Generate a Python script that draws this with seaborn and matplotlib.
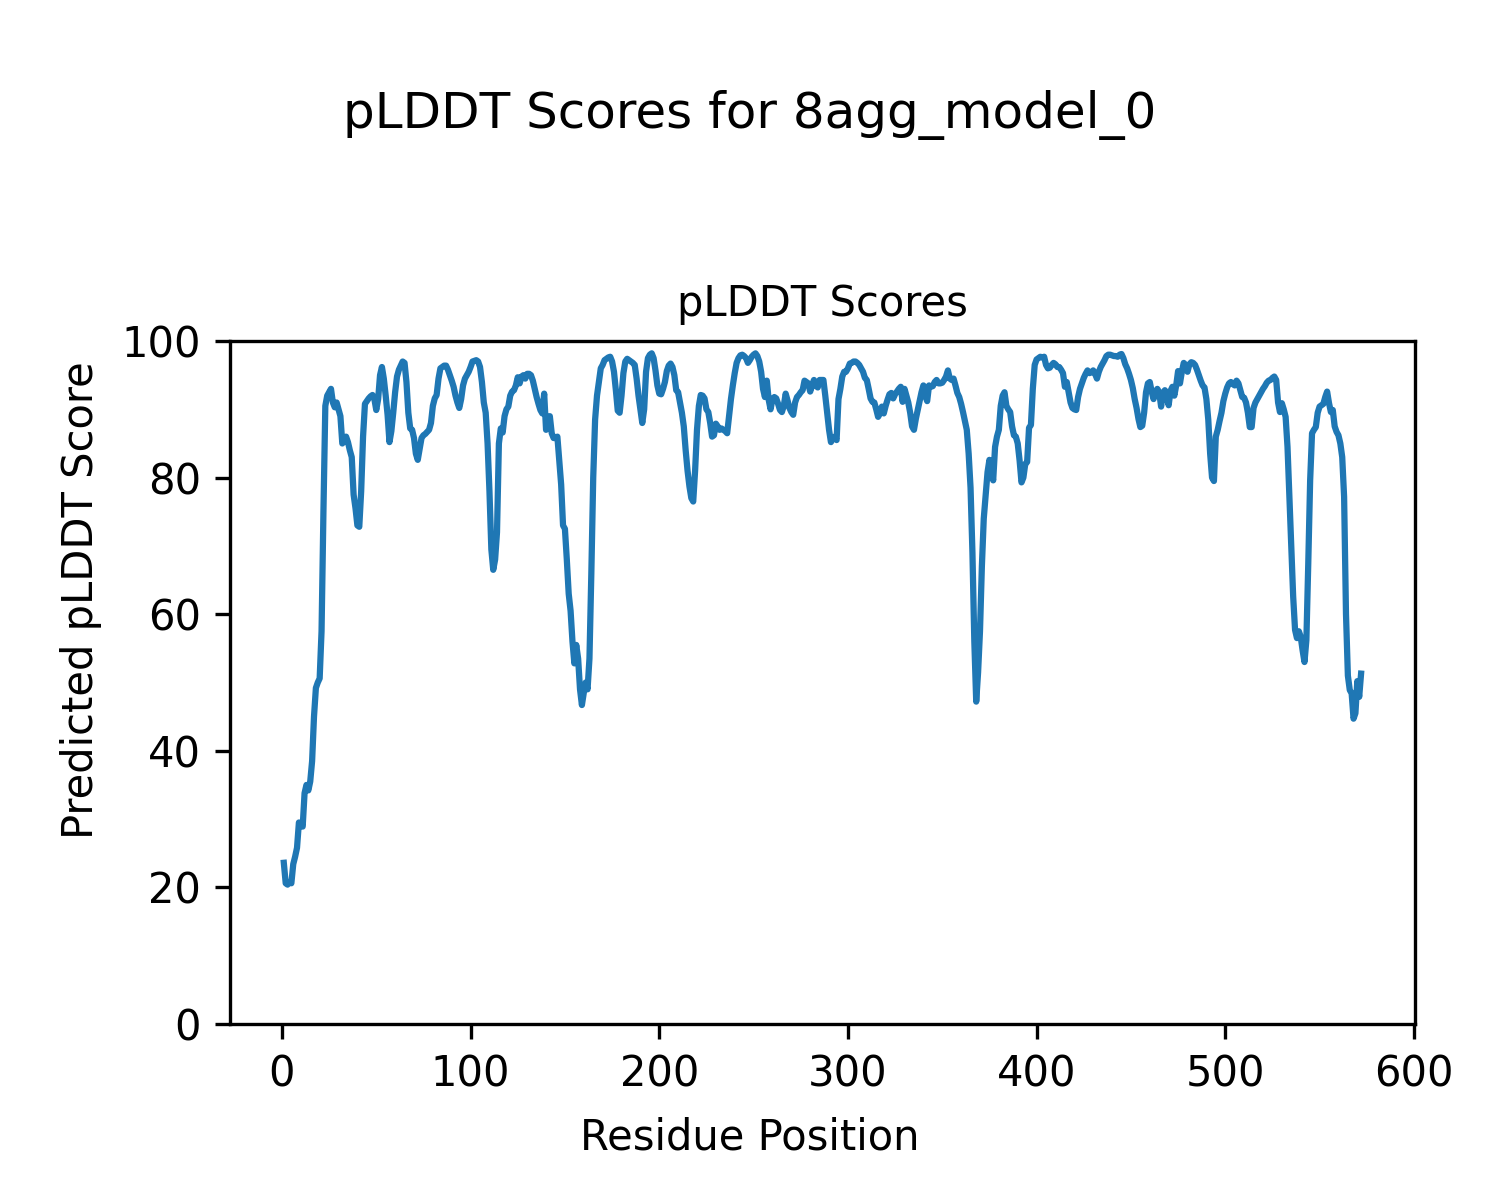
"""
pLDDT per-residue confidence plot for a single predicted model.
"""

import matplotlib
matplotlib.use("Agg")
import matplotlib.pyplot as plt
import numpy as np
import pandas as pd
import seaborn as sns

MODEL_NAME = "8agg_model_0"

# per-residue pLDDT scores (residues 1..572)
plddt_scores = [
    23.6, 20.6, 20.4, 20.8, 20.6, 23.4, 24.5, 25.8, 29.5, 29.4,
    28.9, 33.8, 35.0, 34.2, 35.5, 38.5, 45.0, 49.2, 50.0, 50.6,
    57.5, 75.0, 90.5, 92.0, 92.5, 93.0, 91.0, 90.3, 91.0, 90.0,
    89.0, 85.0, 85.4, 86.0, 85.2, 84.0, 83.0, 77.5, 75.5, 73.0,
    72.8, 78.0, 86.0, 90.8, 91.2, 91.6, 91.9, 92.1, 91.5, 89.9,
    91.5, 95.0, 96.2, 94.5, 92.0, 89.2, 85.2, 86.8, 89.5, 92.5,
    94.8, 95.8, 96.4, 97.0, 96.8, 94.0, 89.5, 87.2, 87.0, 85.8,
    83.5, 82.6, 84.2, 85.8, 86.2, 86.4, 86.7, 87.0, 88.0, 90.5,
    91.6, 92.1, 94.5, 96.0, 96.2, 96.4, 96.4, 95.8, 95.0, 94.2,
    93.3, 92.0, 91.0, 90.2, 91.5, 93.5, 94.5, 95.0, 95.5, 96.2,
    97.0, 97.1, 97.2, 97.0, 96.2, 94.0, 91.0, 89.5, 85.0, 78.0,
    69.5, 66.5, 68.0, 72.0, 85.0, 87.2, 86.6, 89.0, 90.0, 90.4,
    92.0, 92.6, 92.8, 93.5, 94.7, 93.8, 94.8, 95.0, 94.5, 95.2,
    95.2, 95.0, 94.2, 93.0, 91.8, 90.8, 89.9, 89.4, 92.3, 87.0,
    88.5, 89.0, 86.5, 85.8, 85.8, 86.0, 82.5, 79.0, 73.0, 72.5,
    68.0, 63.0, 60.5, 56.0, 52.8, 55.5, 53.5, 49.0, 46.7, 48.5,
    50.0, 49.0, 53.5, 66.0, 80.0, 88.5, 92.0, 94.0, 96.0, 96.5,
    97.2, 97.4, 97.6, 97.7, 97.0, 95.5, 92.8, 89.8, 89.5, 92.0,
    95.3, 97.0, 97.4, 97.2, 97.0, 96.8, 96.5, 94.5, 92.0, 90.0,
    88.0, 90.0, 95.5, 97.5, 98.0, 98.2, 97.5, 95.7, 93.5, 92.3,
    92.2, 93.0, 94.0, 95.6, 96.4, 96.7, 96.2, 95.0, 92.8, 92.5,
    91.0, 89.5, 87.5, 84.0, 81.0, 78.7, 77.0, 76.5, 81.0, 87.0,
    90.5, 92.1, 92.0, 91.6, 90.0, 89.6, 88.0, 86.0, 86.2, 87.9,
    87.5, 87.0, 87.2, 87.0, 86.8, 86.5, 89.0, 91.5, 93.5, 95.3,
    96.8, 97.5, 97.9, 98.0, 97.8, 97.5, 96.8, 97.2, 97.7, 98.0,
    98.2, 97.8, 97.0, 95.5, 93.0, 91.8, 94.2, 91.4, 90.0, 91.5,
    91.8, 91.6, 90.8, 89.9, 89.6, 90.5, 92.3, 91.3, 90.2, 89.6,
    89.2, 91.0, 91.8, 92.1, 92.5, 92.8, 94.2, 94.0, 93.8, 92.6,
    93.5, 94.3, 93.5, 93.2, 94.3, 94.3, 94.3, 92.0, 89.5, 87.0,
    85.2, 85.8, 86.0, 85.5, 91.5, 93.0, 94.8, 95.5, 95.5, 96.0,
    96.7, 96.8, 97.0, 97.0, 96.8, 96.5, 96.0, 95.5, 94.6, 94.3,
    93.0, 91.6, 91.1, 91.0, 90.0, 88.9, 89.4, 90.4, 89.4, 90.5,
    91.4, 92.2, 92.4, 91.6, 92.2, 92.6, 93.0, 93.3, 91.1, 93.0,
    92.0, 91.0, 89.5, 87.5, 87.0, 88.6, 89.9, 91.2, 92.5, 93.5,
    92.0, 91.2, 93.5, 93.3, 93.4, 94.0, 94.3, 93.8, 93.8, 93.9,
    94.3, 94.8, 95.7, 94.5, 94.3, 94.5, 93.5, 92.4, 91.8, 90.8,
    89.6, 88.3, 87.0, 83.5, 78.5, 69.0, 56.0, 47.2, 51.5, 57.5,
    67.0, 74.0, 77.5, 80.8, 82.6, 81.0, 79.6, 84.5, 86.0, 87.0,
    90.5, 92.0, 92.5, 90.5, 90.0, 89.6, 87.5, 86.2, 86.0, 85.0,
    82.5, 79.3, 80.0, 82.0, 82.3, 87.3, 87.7, 93.0, 96.5, 97.3,
    97.5, 97.7, 97.6, 97.7, 96.5, 96.0, 96.1, 96.5, 96.8, 96.6,
    96.2, 96.2, 95.8, 95.3, 93.3, 94.0, 92.5, 91.0, 90.2, 90.0,
    89.9, 91.8, 93.0, 93.8, 94.6, 95.2, 95.7, 95.3, 95.4, 95.7,
    95.2, 94.5, 95.5, 96.2, 96.7, 97.2, 97.8, 98.0, 98.0, 97.9,
    97.8, 97.8, 97.7, 98.0, 98.1, 97.5, 96.6, 96.0, 95.2, 94.3,
    93.1, 91.5, 90.2, 88.6, 87.4, 87.6, 89.5, 92.5, 93.8, 94.0,
    92.6, 91.5, 92.5, 93.0, 92.5, 90.4, 92.4, 92.8, 91.8, 90.6,
    92.7, 93.3, 92.0, 93.5, 95.6, 93.8, 95.5, 96.8, 96.5, 95.5,
    96.6, 96.9, 96.8, 96.5, 95.8, 95.0, 94.2, 93.5, 93.2, 91.5,
    88.5, 83.5, 80.0, 79.5, 86.0, 87.0, 88.3, 89.5, 91.2, 92.3,
    93.2, 93.8, 94.0, 93.7, 93.5, 94.2, 93.8, 92.8, 91.8, 91.7,
    91.0, 89.5, 87.4, 87.4, 90.2, 91.0, 91.5, 92.0, 92.5, 93.0,
    93.4, 93.9, 94.2, 94.3, 94.6, 94.8, 94.3, 91.0, 89.6, 90.9,
    90.0, 88.9, 84.5, 77.2, 69.9, 62.6, 57.7, 56.5, 57.5, 56.7,
    54.7, 53.0, 56.2, 67.4, 79.6, 86.5, 87.0, 87.4, 89.5, 90.4,
    90.6, 90.8, 91.8, 92.6, 90.9, 89.6, 89.9, 87.5, 86.7, 86.2,
    85.0, 83.0, 77.2, 60.0, 51.0, 48.9, 48.4, 44.7, 45.5, 50.2,
    47.9, 51.3,
]

residues = np.arange(1, len(plddt_scores) + 1)
df = pd.DataFrame({"residue": residues, "plddt": plddt_scores})

fig, ax = plt.subplots(figsize=(5, 4), dpi=300)
fig.subplots_adjust(left=0.1533, right=0.9433, bottom=0.1467, top=0.7158)

sns.lineplot(data=df, x="residue", y="plddt", ax=ax, color="#1f77b4", linewidth=1.5)

ax.set_ylim(0, 100)
ax.set_xlabel("")
ax.set_ylabel("")
ax.set_title("pLDDT Scores", fontsize=10)

# figure-level labels, centred on the figure rather than the axes
fig.supxlabel("Residue Position", fontsize=10, y=0.035)
fig.supylabel("Predicted pLDDT Score", fontsize=10, x=0.04)
fig.suptitle(f"pLDDT Scores for {MODEL_NAME}", fontsize=12, y=0.925)

fig.savefig("out.png", dpi=300)
plt.close(fig)
